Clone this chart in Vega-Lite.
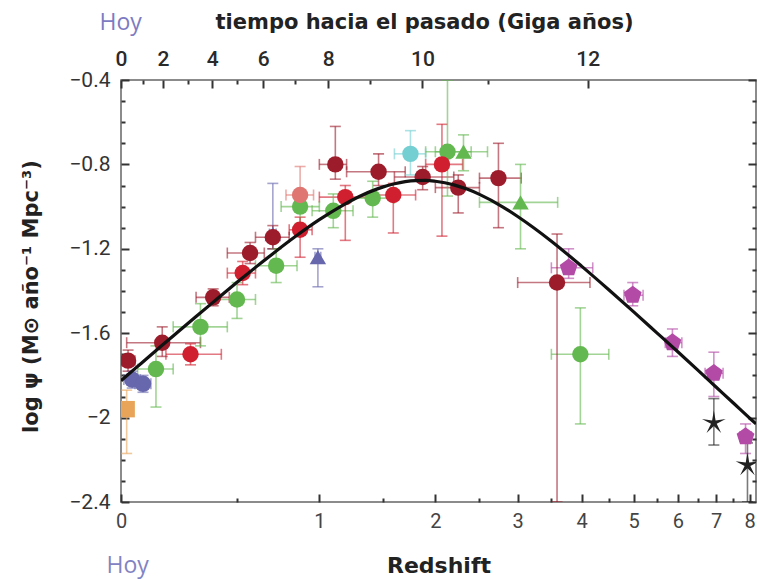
{
  "$schema": "https://vega.github.io/schema/vega-lite/v6.json",
  "width": 635,
  "height": 422,
  "autosize": "none",
  "padding": {"left": 121, "top": 80, "right": 2, "bottom": 78},
  "background": "white",
  "config": {
    "view": {"stroke": "#666666", "strokeWidth": 1.5},
    "axis": {
      "grid": false,
      "domain": false,
      "ticks": true,
      "zindex": 1,
      "labelFont": "Roboto",
      "labelFontSize": 21,
      "labelColor": "#333333",
      "titleFont": "DejaVu Sans",
      "titleFontSize": 21,
      "titleFontWeight": "bold",
      "titleColor": "#222222",
      "tickColor": "#333333",
      "tickOpacity": 1,
      "tickWidth": 2
    }
  },
  "datasets": {
    "curve": [
      {"z": 0, "psi": -1.825},
      {"z": 0.05, "psi": -1.768},
      {"z": 0.1, "psi": -1.714},
      {"z": 0.15, "psi": -1.662},
      {"z": 0.2, "psi": -1.613},
      {"z": 0.3, "psi": -1.521},
      {"z": 0.4, "psi": -1.437},
      {"z": 0.5, "psi": -1.359},
      {"z": 0.6, "psi": -1.288},
      {"z": 0.7, "psi": -1.223},
      {"z": 0.85, "psi": -1.136},
      {"z": 1.0, "psi": -1.062},
      {"z": 1.15, "psi": -1.001},
      {"z": 1.3, "psi": -0.952},
      {"z": 1.45, "psi": -0.916},
      {"z": 1.6, "psi": -0.892},
      {"z": 1.7, "psi": -0.882},
      {"z": 1.8, "psi": -0.877},
      {"z": 1.9, "psi": -0.876},
      {"z": 2.0, "psi": -0.880},
      {"z": 2.1, "psi": -0.887},
      {"z": 2.2, "psi": -0.897},
      {"z": 2.35, "psi": -0.917},
      {"z": 2.5, "psi": -0.942},
      {"z": 2.8, "psi": -1.002},
      {"z": 3.0, "psi": -1.047},
      {"z": 3.5, "psi": -1.164},
      {"z": 4.0, "psi": -1.282},
      {"z": 4.5, "psi": -1.394},
      {"z": 5.0, "psi": -1.499},
      {"z": 5.5, "psi": -1.597},
      {"z": 6.0, "psi": -1.688},
      {"z": 6.5, "psi": -1.774},
      {"z": 7.0, "psi": -1.855},
      {"z": 7.5, "psi": -1.931},
      {"z": 8.0, "psi": -2.003},
      {"z": 8.2, "psi": -2.030}
    ],
    "obs": [
      {"z": 0.02, "y": -1.96, "zlo": 0.0, "zhi": 0.04, "ylo": -2.17, "yhi": -1.87, "s": "orange", "m": "square"},
      {"z": 0.04, "y": -1.82, "zlo": 0.01, "zhi": 0.07, "ylo": -1.86, "yhi": -1.78, "s": "blue", "m": "circle"},
      {"z": 0.08, "y": -1.84, "zlo": 0.05, "zhi": 0.11, "ylo": -1.88, "yhi": -1.8, "s": "blue", "m": "circle"},
      {"z": 0.13, "y": -1.77, "zlo": 0.06, "zhi": 0.2, "ylo": -1.95, "yhi": -1.66, "s": "green", "m": "circle"},
      {"z": 0.025, "y": -1.73, "zlo": 0.0, "zhi": 0.05, "ylo": -1.78, "yhi": -1.68, "s": "darkred", "m": "circle"},
      {"z": 0.155, "y": -1.645, "zlo": 0.02, "zhi": 0.32, "ylo": -1.71, "yhi": -1.57, "s": "darkred", "m": "circle"},
      {"z": 0.275, "y": -1.7, "zlo": 0.17, "zhi": 0.42, "ylo": -1.75, "yhi": -1.65, "s": "red", "m": "circle"},
      {"z": 0.32, "y": -1.57, "zlo": 0.2, "zhi": 0.45, "ylo": -1.66, "yhi": -1.46, "s": "green", "m": "circle"},
      {"z": 0.38, "y": -1.43, "zlo": 0.3, "zhi": 0.46, "ylo": -1.47, "yhi": -1.39, "s": "darkred", "m": "circle"},
      {"z": 0.5, "y": -1.44, "zlo": 0.4, "zhi": 0.6, "ylo": -1.53, "yhi": -1.36, "s": "green", "m": "circle"},
      {"z": 0.53, "y": -1.315, "zlo": 0.45, "zhi": 0.6, "ylo": -1.37, "yhi": -1.26, "s": "red", "m": "circle"},
      {"z": 0.57, "y": -1.22, "zlo": 0.45, "zhi": 0.65, "ylo": -1.27, "yhi": -1.17, "s": "darkred", "m": "circle"},
      {"z": 0.72, "y": -1.28, "zlo": 0.6, "zhi": 0.85, "ylo": -1.36, "yhi": -1.2, "s": "green", "m": "circle"},
      {"z": 0.7, "y": -1.13, "zlo": 0.68, "zhi": 0.72, "ylo": -1.2, "yhi": -0.89, "s": "blue", "m": "triangle"},
      {"z": 0.7, "y": -1.145, "zlo": 0.6, "zhi": 0.8, "ylo": -1.2, "yhi": -1.09, "s": "darkred", "m": "circle"},
      {"z": 0.87, "y": -1.0, "zlo": 0.75, "zhi": 1.0, "ylo": -1.08, "yhi": -0.92, "s": "green", "m": "circle"},
      {"z": 0.87, "y": -1.11, "zlo": 0.8, "zhi": 0.95, "ylo": -1.24, "yhi": -1.05, "s": "red", "m": "circle"},
      {"z": 0.87, "y": -0.945, "zlo": 0.78, "zhi": 0.96, "ylo": -1.0, "yhi": -0.81, "s": "salmon", "m": "circle"},
      {"z": 0.99, "y": -1.24, "zlo": 0.97, "zhi": 1.01, "ylo": -1.38, "yhi": -1.2, "s": "blue", "m": "triangle"},
      {"z": 1.1, "y": -1.02, "zlo": 0.95, "zhi": 1.25, "ylo": -1.1, "yhi": -0.94, "s": "green", "m": "circle"},
      {"z": 1.115, "y": -0.8, "zlo": 1.0, "zhi": 1.2, "ylo": -0.87, "yhi": -0.62, "s": "darkred", "m": "circle"},
      {"z": 1.19, "y": -0.955, "zlo": 1.0, "zhi": 1.4, "ylo": -1.16, "yhi": -0.9, "s": "red", "m": "circle"},
      {"z": 1.41, "y": -0.96, "zlo": 1.2, "zhi": 1.6, "ylo": -1.05, "yhi": -0.88, "s": "green", "m": "circle"},
      {"z": 1.46, "y": -0.835, "zlo": 1.2, "zhi": 1.7, "ylo": -0.9, "yhi": -0.75, "s": "darkred", "m": "circle"},
      {"z": 1.59, "y": -0.945, "zlo": 1.4, "zhi": 1.8, "ylo": -1.125, "yhi": -0.89, "s": "red", "m": "circle"},
      {"z": 1.75, "y": -0.75, "zlo": 1.6, "zhi": 1.9, "ylo": -0.85, "yhi": -0.64, "s": "cyan", "m": "circle"},
      {"z": 1.87, "y": -0.86, "zlo": 1.6, "zhi": 2.2, "ylo": -0.92, "yhi": -0.81, "s": "darkred", "m": "circle"},
      {"z": 2.13, "y": -0.74, "zlo": 1.9, "zhi": 2.4, "ylo": -0.95, "yhi": -0.4, "s": "green", "m": "circle"},
      {"z": 2.07, "y": -0.8, "zlo": 1.9, "zhi": 2.3, "ylo": -1.14, "yhi": -0.61, "s": "red", "m": "circle"},
      {"z": 2.31, "y": -0.74, "zlo": 2.0, "zhi": 2.6, "ylo": -0.83, "yhi": -0.66, "s": "green", "m": "triangle"},
      {"z": 2.25, "y": -0.91, "zlo": 2.0, "zhi": 2.5, "ylo": -1.03, "yhi": -0.85, "s": "darkred", "m": "circle"},
      {"z": 2.74, "y": -0.865, "zlo": 2.5, "zhi": 3.05, "ylo": -1.1, "yhi": -0.7, "s": "darkred", "m": "circle"},
      {"z": 3.04, "y": -0.98, "zlo": 2.5, "zhi": 3.6, "ylo": -1.2, "yhi": -0.8, "s": "green", "m": "triangle"},
      {"z": 3.59, "y": -1.36, "zlo": 3.0, "zhi": 4.15, "ylo": -2.4, "yhi": -1.13, "s": "darkred", "m": "circle"},
      {"z": 3.78, "y": -1.29, "zlo": 3.5, "zhi": 4.2, "ylo": -1.34, "yhi": -1.2, "s": "purple", "m": "pentagon"},
      {"z": 3.98, "y": -1.7, "zlo": 3.5, "zhi": 4.5, "ylo": -2.03, "yhi": -1.48, "s": "green", "m": "circle"},
      {"z": 4.98, "y": -1.42, "zlo": 4.8, "zhi": 5.2, "ylo": -1.47, "yhi": -1.36, "s": "purple", "m": "pentagon"},
      {"z": 5.87, "y": -1.645, "zlo": 5.7, "zhi": 6.1, "ylo": -1.71, "yhi": -1.58, "s": "purple", "m": "pentagon"},
      {"z": 6.94, "y": -1.79, "zlo": 6.7, "zhi": 7.2, "ylo": -1.9, "yhi": -1.69, "s": "purple", "m": "pentagon"},
      {"z": 6.94, "y": -2.025, "zlo": null, "zhi": null, "ylo": -2.13, "yhi": -1.91, "s": "star", "m": "star"},
      {"z": 7.87, "y": -2.09, "zlo": 7.7, "zhi": 8.05, "ylo": -2.17, "yhi": -2.03, "s": "purple", "m": "pentagon"},
      {"z": 7.93, "y": -2.225, "zlo": null, "zhi": null, "ylo": -2.4, "yhi": -2.12, "s": "star", "m": "star"}
    ]
  },
  "layer": [
    {
      "data": {"name": "curve"},
      "mark": {"type": "line", "strokeOpacity": 0},
      "encoding": {
        "x": {"field": "z", "type": "quantitative",
          "scale": {"type": "symlog", "constant": 1, "domain": [0, 8.2], "nice": false, "zero": false},
          "axis": {"orient": "bottom", "values": [0, 1, 2, 3, 4, 5, 6, 7, 8], "offset": -8, "tickSize": 8, "ticks": true, "labelPadding": 9,
            "labelExpr": "toString(datum.value)", "labelColor": "#444444", "labelFontSize": 20, "labelFlush": false,
            "title": "Redshift", "titleFontSize": 22, "titleY": 71, "titleBaseline": "middle"}},
        "y": {"field": "psi", "type": "quantitative",
          "scale": {"domain": [-2.4, -0.4], "nice": false, "zero": false},
          "axis": {"orient": "left", "values": [-2.4, -2, -1.6, -1.2, -0.8, -0.4], "offset": -8, "tickSize": 8, "ticks": true, "labelPadding": 11,
            "labelExpr": "replace(toString(datum.value), '-', '−')", "labelFlush": false,
            "title": "log ψ (M⊙ año⁻¹ Mpc⁻³)", "titleFontSize": 21, "titleX": -98, "titleY": 216,
            "titleBaseline": "middle", "titleAlign": "center"}}
      }
    },
    {
      "data": {"name": "curve"},
      "mark": {"type": "line", "strokeOpacity": 0},
      "encoding": {
        "x": {"field": "z", "type": "quantitative",
          "scale": {"type": "symlog", "constant": 1, "domain": [0, 8.2], "nice": false, "zero": false},
          "axis": {"orient": "bottom", "values": [0.5, 1.5, 2.5, 3.5, 4.5, 5.5, 6.5, 7.5], "offset": -4, "tickSize": 4, "ticks": true, "labels": false,
            "title": "Hoy", "titleColor": "#8383c3", "titleFontWeight": "normal", "titleFont": "Open Sans", "titleFontSize": 23,
            "titleX": -15, "titleY": 67, "titleAlign": "left", "titleBaseline": "middle"}},
        "y": {"field": "psi", "type": "quantitative",
          "scale": {"domain": [-2.4, -0.4], "nice": false, "zero": false},
          "axis": {"orient": "left", "values": [-2.3, -2.2, -2.1, -1.9, -1.8, -1.7, -1.5, -1.4, -1.3, -1.1, -1.0, -0.9, -0.7, -0.6, -0.5],
            "offset": -4, "tickSize": 4, "ticks": true, "labels": false, "title": null}}
      }
    },
    {
      "data": {"name": "curve"},
      "mark": {"type": "line", "strokeOpacity": 0},
      "encoding": {
        "x": {"field": "z", "type": "quantitative",
          "scale": {"type": "symlog", "constant": 1, "domain": [0, 8.2], "nice": false, "zero": false},
          "axis": {"orient": "top", "values": [0, 0.158, 0.375, 0.644, 1.063, 1.868, 4.108], "offset": -8, "tickSize": 8, "ticks": true, "labelPadding": 11,
            "labelExpr": "toString(indexof([0, 0.158, 0.375, 0.644, 1.063, 1.868, 4.108], datum.value) * 2)",
            "labelFontWeight": 500, "labelColor": "#2a2a2a", "labelFlush": false,
            "title": "tiempo hacia el pasado (Giga años)", "titleX": 303, "titleY": -66, "titleBaseline": "middle"}},
        "y": {"field": "psi", "type": "quantitative",
          "scale": {"domain": [-2.4, -0.4], "nice": false, "zero": false},
          "axis": {"orient": "right", "values": [-2.4, -2, -1.6, -1.2, -0.8, -0.4], "offset": -8, "tickSize": 8, "ticks": true, "labels": false, "title": null}}
      }
    },
    {
      "data": {"name": "curve"},
      "mark": {"type": "line", "strokeOpacity": 0},
      "encoding": {
        "x": {"field": "z", "type": "quantitative",
          "scale": {"type": "symlog", "constant": 1, "domain": [0, 8.2], "nice": false, "zero": false},
          "axis": {"orient": "top", "values": [0.08, 0.264, 0.5, 0.838, 1.39, 2.6], "offset": -4, "tickSize": 4, "ticks": true, "labels": false,
            "title": "Hoy", "titleColor": "#7d7bc2", "titleFontWeight": "normal", "titleFont": "Open Sans", "titleFontSize": 23,
            "titleX": -22, "titleY": -62, "titleAlign": "left", "titleBaseline": "middle"}},
        "y": {"field": "psi", "type": "quantitative",
          "scale": {"domain": [-2.4, -0.4], "nice": false, "zero": false},
          "axis": {"orient": "right", "values": [-2.3, -2.2, -2.1, -1.9, -1.8, -1.7, -1.5, -1.4, -1.3, -1.1, -1.0, -0.9, -0.7, -0.6, -0.5],
            "offset": -4, "tickSize": 4, "ticks": true, "labels": false, "title": null}}
      }
    },
    {
      "data": {"name": "obs"},
      "transform": [{"filter": "datum.zlo != null"}],
      "mark": {"type": "errorbar", "ticks": {"size": 11}, "thickness": 1.6, "opacity": 0.6, "clip": true},
      "encoding": {
        "x": {"field": "zlo", "type": "quantitative",
          "scale": {"type": "symlog", "constant": 1, "domain": [0, 8.2], "nice": false, "zero": false}, "axis": null},
        "x2": {"field": "zhi"},
        "y": {"field": "y", "type": "quantitative",
          "scale": {"domain": [-2.4, -0.4], "nice": false, "zero": false}, "axis": null},
        "color": {"field": "s", "type": "nominal", "legend": null,
          "scale": {"domain": ["darkred", "red", "salmon", "green", "cyan", "purple", "blue", "orange", "star"],
            "range": ["#9c1c2b", "#d0202f", "#e07672", "#64b850", "#74cfd2", "#b24aa6", "#6767ad", "#e8a55a", "#222222"]}}
      }
    },
    {
      "data": {"name": "obs"},
      "mark": {"type": "errorbar", "ticks": {"size": 11}, "thickness": 1.6, "opacity": 0.6, "clip": true},
      "encoding": {
        "y": {"field": "ylo", "type": "quantitative",
          "scale": {"domain": [-2.4, -0.4], "nice": false, "zero": false}, "axis": null},
        "y2": {"field": "yhi"},
        "x": {"field": "z", "type": "quantitative",
          "scale": {"type": "symlog", "constant": 1, "domain": [0, 8.2], "nice": false, "zero": false}, "axis": null},
        "color": {"field": "s", "type": "nominal", "legend": null}
      }
    },
    {
      "data": {"name": "obs"},
      "transform": [{"filter": "datum.m != 'pentagon' && datum.m != 'star'"}],
      "mark": {"type": "point", "filled": true, "opacity": 1, "size": 270, "clip": true},
      "encoding": {
        "x": {"field": "z", "type": "quantitative",
          "scale": {"type": "symlog", "constant": 1, "domain": [0, 8.2], "nice": false, "zero": false}, "axis": null},
        "y": {"field": "y", "type": "quantitative",
          "scale": {"domain": [-2.4, -0.4], "nice": false, "zero": false}, "axis": null},
        "color": {"field": "s", "type": "nominal", "legend": null},
        "shape": {"field": "m", "type": "nominal", "legend": null,
          "scale": {"domain": ["circle", "triangle", "square"], "range": ["circle", "triangle-up", "square"]}}
      }
    },
    {
      "data": {"name": "obs"},
      "transform": [{"filter": "datum.m == 'pentagon'"}],
      "mark": {"type": "point", "filled": true, "opacity": 1, "size": 350, "clip": true,
        "shape": "M0,-1L0.951,-0.309L0.588,0.809L-0.588,0.809L-0.951,-0.309Z"},
      "encoding": {
        "x": {"field": "z", "type": "quantitative",
          "scale": {"type": "symlog", "constant": 1, "domain": [0, 8.2], "nice": false, "zero": false}, "axis": null},
        "y": {"field": "y", "type": "quantitative",
          "scale": {"domain": [-2.4, -0.4], "nice": false, "zero": false}, "axis": null},
        "color": {"field": "s", "type": "nominal", "legend": null}
      }
    },
    {
      "data": {"name": "obs"},
      "transform": [{"filter": "datum.m == 'star'"}],
      "mark": {"type": "point", "filled": true, "opacity": 1, "size": 620, "clip": true,
        "shape": "M0,-1L0.14,-0.2L0.951,-0.309L0.23,0.07L0.588,0.809L0,0.25L-0.588,0.809L-0.23,0.07L-0.951,-0.309L-0.14,-0.2Z"},
      "encoding": {
        "x": {"field": "z", "type": "quantitative",
          "scale": {"type": "symlog", "constant": 1, "domain": [0, 8.2], "nice": false, "zero": false}, "axis": null},
        "y": {"field": "y", "type": "quantitative",
          "scale": {"domain": [-2.4, -0.4], "nice": false, "zero": false}, "axis": null},
        "color": {"field": "s", "type": "nominal", "legend": null}
      }
    },
    {
      "data": {"name": "curve"},
      "mark": {"type": "line", "color": "#111111", "strokeWidth": 3.2, "interpolate": "monotone", "clip": true},
      "encoding": {
        "x": {"field": "z", "type": "quantitative",
          "scale": {"type": "symlog", "constant": 1, "domain": [0, 8.2], "nice": false, "zero": false}, "axis": null},
        "y": {"field": "psi", "type": "quantitative",
          "scale": {"domain": [-2.4, -0.4], "nice": false, "zero": false}, "axis": null}
      }
    }
  ],
  "resolve": {"axis": {"x": "independent", "y": "independent"}}
}
